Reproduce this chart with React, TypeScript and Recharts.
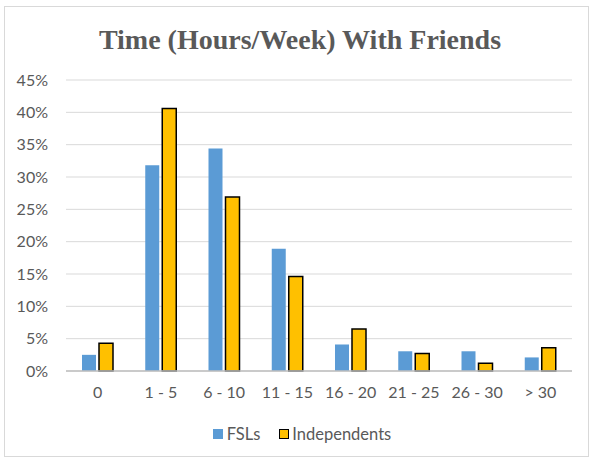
import { BarChart, Bar, XAxis, YAxis, CartesianGrid, Legend } from "recharts"

// hours per week spent with friends
const categories = ["0", "1 - 5", "6 - 10", "11 - 15", "16 - 20", "21 - 25", "26 - 30", "> 30"]
const fsls = [2.5, 31.8, 34.4, 18.9, 4.1, 3.05, 3.05, 2.1]
const independents = [4.3, 40.6, 26.9, 14.6, 6.5, 2.7, 1.2, 3.6]
const yTicks = [0, 5, 10, 15, 20, 25, 30, 35, 40, 45]

const data = categories.map((name, i) => ({
  name,
  fsls: fsls[i],
  independents: independents[i],
}))

const textColor = "#595959"
const font = "Lato, 'Open Sans', sans-serif"

function LegendContent() {
  return (
    <div
      style={{
        display: "flex",
        justifyContent: "center",
        alignItems: "center",
        fontFamily: font,
        fontSize: 16.5,
        lineHeight: "20px",
        color: textColor,
        paddingLeft: 14,
      }}
    >
      <span style={{ display: "inline-flex", alignItems: "center", marginRight: 19 }}>
        <span style={{ width: 10, height: 10, background: "#5B9BD5", marginRight: 4 }} />
        FSLs
      </span>
      <span style={{ display: "inline-flex", alignItems: "center" }}>
        <span
          style={{
            width: 8,
            height: 8,
            background: "#FFC000",
            border: "1.5px solid #000",
            marginRight: 3,
          }}
        />
        Independents
      </span>
    </div>
  )
}

export default function App() {
  return (
    <div style={{ position: "absolute", left: 0, top: 0, width: 590, height: 460, background: "#fff" }}>
      <div
        style={{
          position: "absolute",
          left: 4,
          top: 6,
          width: 583,
          height: 449,
          border: "1px solid #d9d9d9",
        }}
      />
      <div
        style={{
          position: "absolute",
          left: 4,
          width: 592,
          top: 24,
          textAlign: "center",
          fontFamily: "'Liberation Serif', 'Times New Roman', serif",
          fontWeight: "bold",
          fontSize: 28,
          color: textColor,
        }}
      >
        Time (Hours/Week) With Friends
      </div>
      <div style={{ position: "absolute", left: 0, top: 0 }}>
        <BarChart
          width={590}
          height={460}
          data={data}
          margin={{ top: 80, right: 18, left: 0, bottom: 39 }}
          barSize={14}
          barGap={3}
        >
          <CartesianGrid vertical={false} stroke="#d9d9d9" />
          <XAxis
            dataKey="name"
            tickLine={false}
            axisLine={{ stroke: "#bfbfbf", strokeWidth: 1.5 }}
            tick={{ fill: textColor, fontSize: 16, fontFamily: font }}
            tickMargin={10}
            height={30}
          />
          <YAxis
            domain={[0, 45]}
            ticks={yTicks}
            tickFormatter={(v) => `${v}%`}
            axisLine={false}
            tickLine={false}
            width={66}
            tickMargin={12}
            tick={{ fill: textColor, fontSize: 16, fontFamily: font }}
          />
          <Legend
            verticalAlign="bottom"
            content={LegendContent}
            wrapperStyle={{ position: "absolute", top: 424, left: 0, width: 590 }}
          />
          <Bar dataKey="fsls" name="FSLs" fill="#5B9BD5" isAnimationActive={false} />
          <Bar
            dataKey="independents"
            name="Independents"
            fill="#FFC000"
            stroke="#000"
            strokeWidth={1.5}
            isAnimationActive={false}
          />
        </BarChart>
      </div>
    </div>
  )
}
